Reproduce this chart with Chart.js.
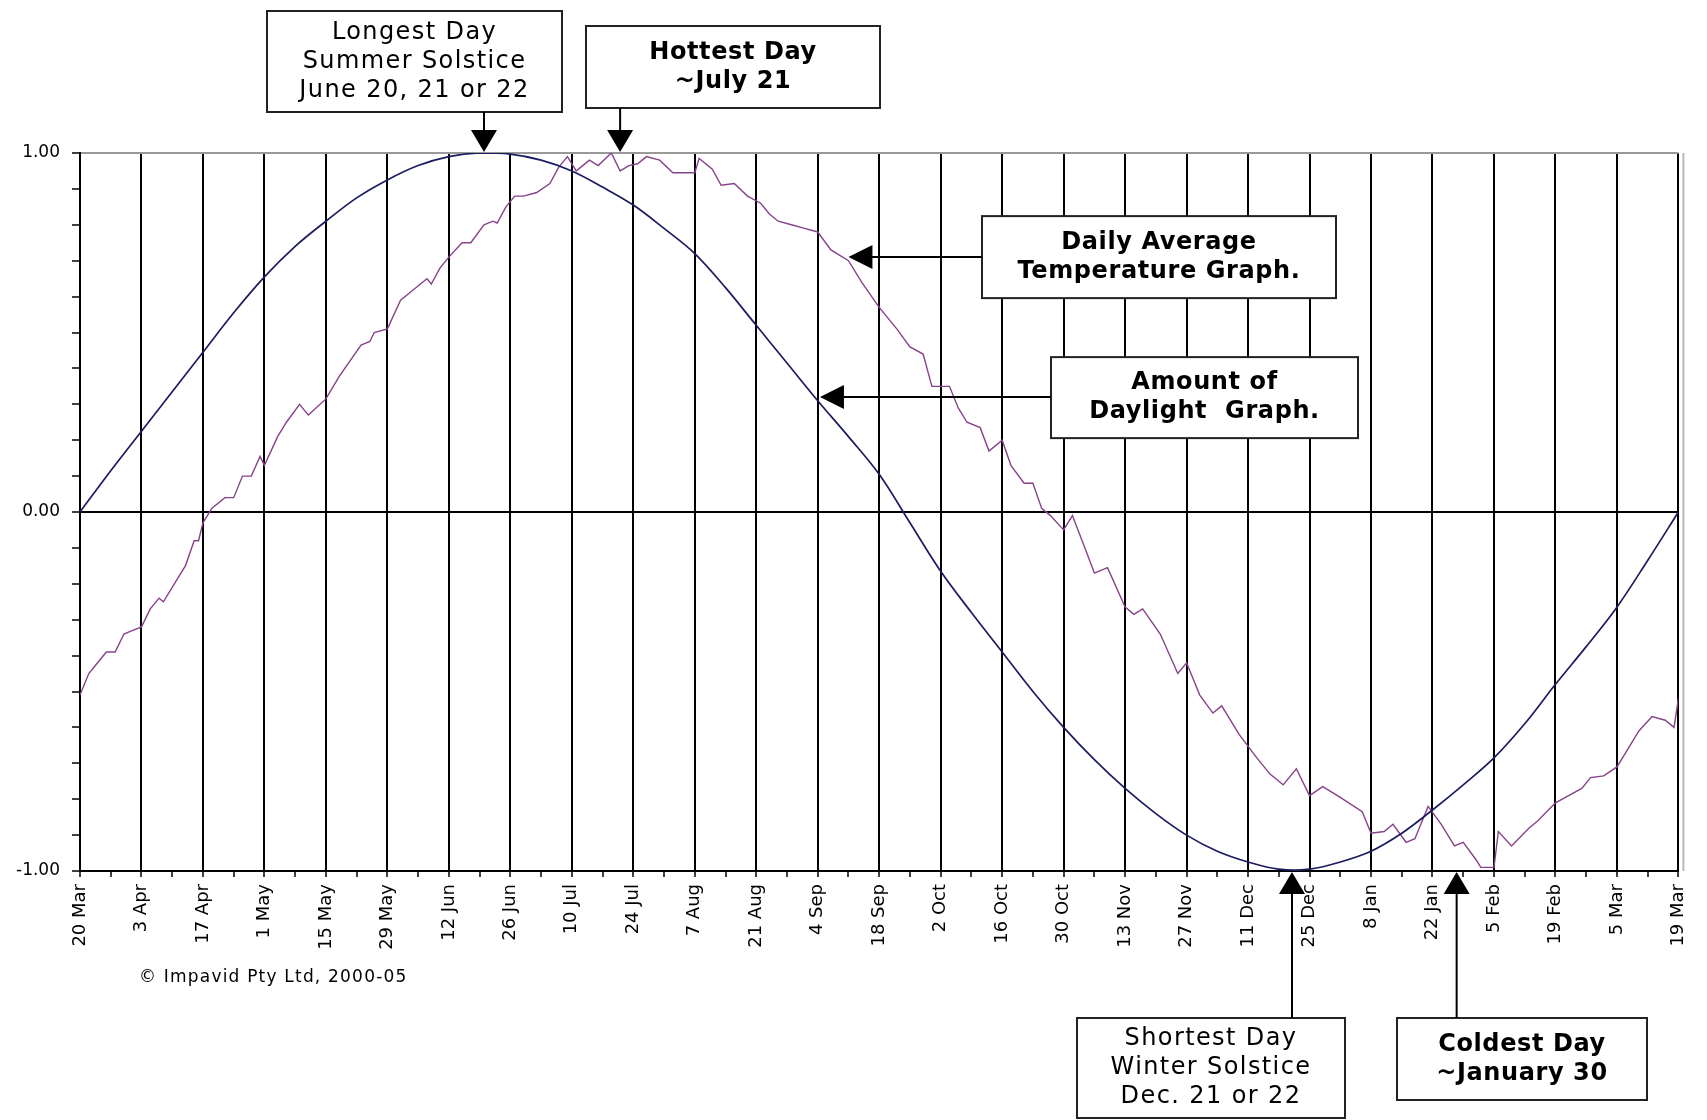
<!DOCTYPE html>
<html>
<head>
<meta charset="utf-8">
<script src="https://cdn.jsdelivr.net/npm/chart.js@4/dist/chart.umd.min.js"></script>
<style>
  html, body { margin: 0; padding: 0; background: #fff; }
  #wrap { width: 1707px; height: 1120px; position: relative; }
</style>
</head>
<body>
<div id="wrap"><canvas id="chart"></canvas></div>
<script>
// X AXIS: days counted from 20 March, a label every 14 days, a minor tick every 7

const tickLabels = ["20 Mar","3 Apr","17 Apr","1 May","15 May","29 May","12 Jun","26 Jun",
	"10 Jul","24 Jul","7 Aug","21 Aug","4 Sep","18 Sep","2 Oct","16 Oct","30 Oct","13 Nov",
	"27 Nov","11 Dec","25 Dec","8 Jan","22 Jan","5 Feb","19 Feb","5 Mar","19 Mar"];
const labelStep = 14;
const minorStep = 7;

// AMOUNT OF DAYLIGHT

const daylightDays = [0,7,14,21,28,35,42,49,56,63,70,77,84,91,98,105,112,119,126,133,140,147,
	154,161,168,175,182,189,196,203,210,217,224,231,238,245,252,259,266,273,280,287,294,301,
	308,315,322,329,336,343,350,357,364];
const daylightValues = [0,0.115,0.225,0.335,0.445,0.555,0.655,0.74,0.81,0.875,0.925,0.965,0.99,
	1.0,0.997,0.98,0.95,0.905,0.855,0.79,0.72,0.625,0.52,0.415,0.31,0.21,0.105,-0.03,-0.165,
	-0.28,-0.39,-0.5,-0.6,-0.69,-0.77,-0.84,-0.9,-0.945,-0.975,-0.995,-0.995,-0.975,-0.945,
	-0.895,-0.83,-0.76,-0.685,-0.59,-0.48,-0.375,-0.265,-0.135,0];

// DAILY AVERAGE TEMPERATURE (scaled -1..1)

const tempDays = [0,2,4,6,8,10,12,14,16,18,19,22,24,26,27,28,30,33,35,37,39,41,42,45,47,50,52,
	56,59,62,64,66,67,70,73,76,79,80,82,84,87,89,92,94,95,97,99,101,104,107,109,111,113,114,
	116,118,121,123,125,127,129,132,135,138,140,141,144,146,149,152,155,157,159,162,165,168,
	171,175,178,182,186,189,192,194,198,200,202,205,207,210,212,215,217,219,221,224,226,229,
	231,234,238,240,242,246,250,252,255,258,260,264,268,271,274,277,280,283,287,292,294,297,
	299,302,304,307,310,313,315,318,319,322,323,326,330,332,336,339,342,344,347,350,352,355,
	358,361,363,364];
const tempValues = [-0.51,-0.45,-0.42,-0.39,-0.39,-0.34,-0.33,-0.32,-0.27,-0.24,-0.25,-0.19,
	-0.15,-0.08,-0.08,-0.03,0.01,0.04,0.04,0.1,0.1,0.155,0.13,0.21,0.25,0.3,0.27,0.315,0.377,
	0.43,0.465,0.475,0.5,0.51,0.59,0.62,0.65,0.635,0.68,0.71,0.75,0.75,0.8,0.81,0.805,0.85,0.88,
	0.88,0.89,0.915,0.96,0.99,0.95,0.96,0.98,0.965,1.0,0.95,0.965,0.97,0.99,0.98,0.945,0.945,
	0.945,0.985,0.955,0.91,0.915,0.88,0.86,0.83,0.81,0.8,0.79,0.78,0.73,0.7,0.64,0.57,0.51,0.46,
	0.44,0.35,0.35,0.29,0.25,0.235,0.17,0.2,0.13,0.08,0.08,0.01,-0.01,-0.05,-0.01,-0.105,-0.17,
	-0.155,-0.265,-0.285,-0.27,-0.34,-0.45,-0.42,-0.51,-0.56,-0.54,-0.62,-0.685,-0.73,-0.76,
	-0.715,-0.79,-0.765,-0.795,-0.835,-0.895,-0.89,-0.87,-0.92,-0.91,-0.82,-0.87,-0.93,-0.92,
	-0.97,-0.99,-0.99,-0.89,-0.93,-0.88,-0.86,-0.81,-0.79,-0.77,-0.74,-0.735,-0.71,-0.67,-0.61,
	-0.57,-0.58,-0.6,-0.52];

// DAYS POINTED AT BY THE CALLOUTS

const summerSolsticeDay = 92;
const hottestDay = 123;
const winterSolsticeDay = 276;
const coldestDay = 313.5;

const FONT = '"DejaVu Sans", Verdana, sans-serif';

function toPoints(xs, ys){
	return xs.map((x, i) => ({ x: x, y: ys[i] }));
}

// CALLOUT DRAWING

function drawBox(c, x, y, w, h, lines, bold){
	c.fillStyle = '#fff';
	c.fillRect(x, y, w, h);
	c.strokeStyle = '#222';
	c.lineWidth = 2;
	c.strokeRect(x, y, w, h);
	c.fillStyle = '#000';
	c.font = (bold ? 'bold 24px ' : '24px ') + FONT;
	c.letterSpacing = bold ? '0.6px' : '1.4px';
	c.textAlign = 'center';
	c.textBaseline = 'middle';
	const lh = 29;
	const first = y + h / 2 - (lines.length - 1) * lh / 2;
	lines.forEach((t, i) => c.fillText(t, x + w / 2, first + i * lh));
	c.letterSpacing = '0px';
}

function arrowV(c, x, y0, y1){
	const dir = y1 > y0 ? 1 : -1;
	c.strokeStyle = '#000';
	c.lineWidth = 2;
	c.beginPath(); c.moveTo(x, y0); c.lineTo(x, y1 - dir * 20); c.stroke();
	c.fillStyle = '#000';
	c.beginPath();
	c.moveTo(x, y1);
	c.lineTo(x - 13, y1 - dir * 22);
	c.lineTo(x + 13, y1 - dir * 22);
	c.closePath(); c.fill();
}

function arrowH(c, x0, x1, y){
	const dir = x1 > x0 ? 1 : -1;
	c.strokeStyle = '#000';
	c.lineWidth = 2;
	c.beginPath(); c.moveTo(x0, y); c.lineTo(x1 - dir * 20, y); c.stroke();
	c.fillStyle = '#000';
	c.beginPath();
	c.moveTo(x1, y);
	c.lineTo(x1 - dir * 24, y - 12);
	c.lineTo(x1 - dir * 24, y + 12);
	c.closePath(); c.fill();
}

const callouts = {
	id: 'callouts',
	afterDraw(chart){
		const c = chart.ctx, xs = chart.scales.x, ys = chart.scales.y, a = chart.chartArea;
		c.save();

		// light outer frame on the right
		c.strokeStyle = '#b8b8b8';
		c.lineWidth = 2;
		c.beginPath(); c.moveTo(a.right + 5, a.top); c.lineTo(a.right + 5, a.bottom); c.stroke();

		drawBox(c, 267, 11, 295, 101, ['Longest Day', 'Summer Solstice', 'June 20, 21 or 22'], false);
		arrowV(c, xs.getPixelForValue(summerSolsticeDay), 112, ys.getPixelForValue(1) - 1);

		drawBox(c, 586, 26, 294, 82, ['Hottest Day', '~July 21'], true);
		arrowV(c, xs.getPixelForValue(hottestDay), 108, ys.getPixelForValue(1) - 1);

		const tx = xs.getPixelForValue(175), ty = ys.getPixelForValue(0.71);
		drawBox(c, 982, ty - 41, 354, 82, ['Daily Average', 'Temperature Graph.'], true);
		arrowH(c, 982, tx, ty);

		const dx = xs.getPixelForValue(168.5), dy = ys.getPixelForValue(0.32);
		drawBox(c, 1051, dy - 40, 307, 81, ['Amount of', 'Daylight  Graph.'], true);
		arrowH(c, 1051, dx, dy);

		drawBox(c, 1077, 1018, 268, 100, ['Shortest Day', 'Winter Solstice', 'Dec. 21 or 22'], false);
		arrowV(c, xs.getPixelForValue(winterSolsticeDay), 1018, ys.getPixelForValue(-1) + 1);

		drawBox(c, 1397, 1018, 250, 82, ['Coldest Day', '~January 30'], true);
		arrowV(c, xs.getPixelForValue(coldestDay), 1018, ys.getPixelForValue(-1) + 1);

		c.font = '17px ' + FONT;
		c.letterSpacing = '1.2px';
		c.fillStyle = '#000';
		c.textAlign = 'left';
		c.textBaseline = 'middle';
		c.fillText('\u00A9 Impavid Pty Ltd, 2000-05', 139, 978);
		c.letterSpacing = '0px';
		c.restore();
	}
};

// CHART

const ctx = document.getElementById('chart').getContext('2d');

new Chart(ctx, {
	type: 'line',
	data: {
		datasets: [{
			label: 'Amount of Daylight',
			data: toPoints(daylightDays, daylightValues),
			borderColor: '#1c1c60',
			borderWidth: 1.7,
			pointRadius: 0,
			tension: 0.35,
			fill: false
		},
		{
			label: 'Daily Average Temperature',
			data: toPoints(tempDays, tempValues),
			borderColor: '#86428a',
			borderWidth: 1.4,
			pointRadius: 0,
			tension: 0,
			fill: false
		}]
	},
	options: {
		responsive: true,
		maintainAspectRatio: false,
		animation: false,
		devicePixelRatio: 1,
		layout: { padding: { top: 153, right: 17, left: 0, bottom: 0 } },
		plugins: { legend: { display: false }, tooltip: { enabled: false } },
		scales: {
			x: {
				type: 'linear',
				min: 0,
				max: 364,
				afterFit: s => { s.height = 249; },
				border: { display: true, color: '#000', width: 2 },
				grid: {
					color: g => (g.tick && g.tick.value % labelStep === 0) ? '#000' : 'rgba(0,0,0,0)',
					lineWidth: 2,
					tickColor: '#000',
					tickLength: 6,
					tickWidth: 1.5
				},
				ticks: {
					stepSize: minorStep,
					autoSkip: false,
					minRotation: 90,
					maxRotation: 90,
					padding: 7,
					color: '#000',
					font: { family: FONT, size: 18 },
					callback: v => v % labelStep === 0 ? tickLabels[v / labelStep] : ''
				}
			},
			y: {
				min: -1,
				max: 1,
				afterFit: s => { s.width = 80; },
				border: { display: true, color: '#000', width: 2 },
				grid: {
					color: g => {
						if (!g.tick) return 'rgba(0,0,0,0)';
						if (Math.abs(g.tick.value) < 1e-9) return '#000';
						if (Math.abs(g.tick.value - 1) < 1e-9) return '#9a9a9a';
						return 'rgba(0,0,0,0)';
					},
					lineWidth: 2,
					tickColor: '#000',
					tickLength: 8,
					tickWidth: 1.5
				},
				ticks: {
					stepSize: 0.1,
					autoSkip: false,
					padding: 12,
					color: '#000',
					font: { family: FONT, size: 17 },
					callback: v => (Math.abs(Math.abs(v) - 1) < 1e-9 || Math.abs(v) < 1e-9) ? v.toFixed(2) : ''
				}
			}
		}
	},
	plugins: [callouts]
});
</script>
</body>
</html>
